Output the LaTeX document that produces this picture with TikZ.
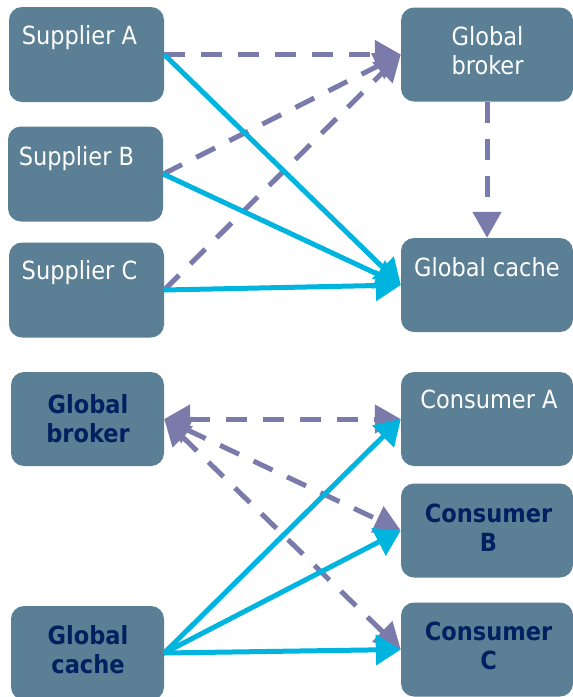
\documentclass[tikz,border=0pt]{standalone}
\usepackage{fontspec}
\setmainfont{DejaVu Sans Condensed}
\usetikzlibrary{arrows.meta}
\definecolor{boxfill}{HTML}{5B7F95}
\definecolor{linkpurple}{HTML}{7B7BAB}
\definecolor{linkcyan}{HTML}{00B4E0}
\definecolor{navy}{HTML}{002060}
\begin{document}
\begin{tikzpicture}[x=1pt,y=-1pt,
  box/.style={rectangle, rounded corners=13pt, fill=boxfill, draw=none, inner sep=0pt},
  leftbox/.style={box, minimum width=155pt, minimum height=95pt},
  rightbox/.style={box, minimum width=172pt, minimum height=94pt},
  plain/.style={anchor=base, inner sep=0pt, text=white, font=\fontsize{25}{29}\selectfont},
  strong/.style={anchor=base, inner sep=0pt, text=navy, font=\fontsize{25}{29}\selectfont\bfseries},
  control/.style={draw=linkpurple, line width=5pt, dash pattern=on 21pt off 16pt, -{Triangle[length=26pt, width=28pt]}},
  control2/.style={draw=linkpurple, line width=5pt, dash pattern=on 21pt off 16pt, {Triangle[length=26pt, width=28pt]}-{Triangle[length=26pt, width=28pt]}},
  data/.style={draw=linkcyan, line width=5pt, -{Triangle[length=25pt, width=30pt]}}
]
\useasboundingbox (0,0) rectangle (573,697);
\begin{scope}
\clip (0,0) rectangle (573,697);

% upper part: suppliers publish to the broker and the cache
\node[leftbox] (sa) at (86.5,54.5) {};
\node[leftbox] (sb) at (85.5,174) {};
\node[leftbox] (sc) at (86.5,290) {};
\node[rightbox] (gb) at (487,54.5) {};
\node[rightbox] (gc) at (487,285) {};

\node[plain] at (79.5,44) {Supplier A};
\node[plain] at (76.5,165) {Supplier B};
\node[plain] at (79.5,279) {Supplier C};
\node[plain] at (487.5,45) {\begin{tabular}[t]{@{}c@{}}Global\\broker\end{tabular}};
\node[plain] at (487,276) {Global cache};

% lower part: broker and cache serve the consumers
\node[leftbox, minimum width=153pt, minimum height=94pt] (lb) at (87.5,419) {};
\node[leftbox, minimum width=153pt, minimum height=94pt] (lc) at (87.5,653) {};
\node[rightbox] (ca) at (487,419) {};
\node[rightbox] (cb) at (487,530.5) {};
\node[rightbox] (cc) at (487,649.5) {};

\node[strong] at (88,413) {\begin{tabular}[t]{@{}c@{}}Global\\broker\end{tabular}};
\node[strong] at (88,644) {\begin{tabular}[t]{@{}c@{}}Global\\cache\end{tabular}};
\node[plain] at (489,408) {Consumer A};
\node[strong] at (488.5,522) {\begin{tabular}[t]{@{}c@{}}Consumer\\B\end{tabular}};
\node[strong] at (488.5,640) {\begin{tabular}[t]{@{}c@{}}Consumer\\C\end{tabular}};

% control links (dashed)
\draw[control] (sa.east) -- (gb.west);
\draw[control] (sb.east) -- (gb.west);
\draw[control] (sc.east) -- (gb.west);
\draw[control] (gb.south) -- (gc.north);
\draw[control2] (lb.east) -- (ca.west);
\draw[control2] (lb.east) -- (cb.west);
\draw[control2] (lb.east) -- (cc.west);

% data links (solid)
\draw[data] (sa.east) -- (gc.west);
\draw[data] (sb.east) -- (gc.west);
\draw[data] (sc.east) -- (gc.west);
\draw[data] (lc.east) -- (ca.west);
\draw[data] (lc.east) -- (cb.west);
\draw[data] (lc.east) -- (cc.west);
\end{scope}
\end{tikzpicture}
\end{document}
